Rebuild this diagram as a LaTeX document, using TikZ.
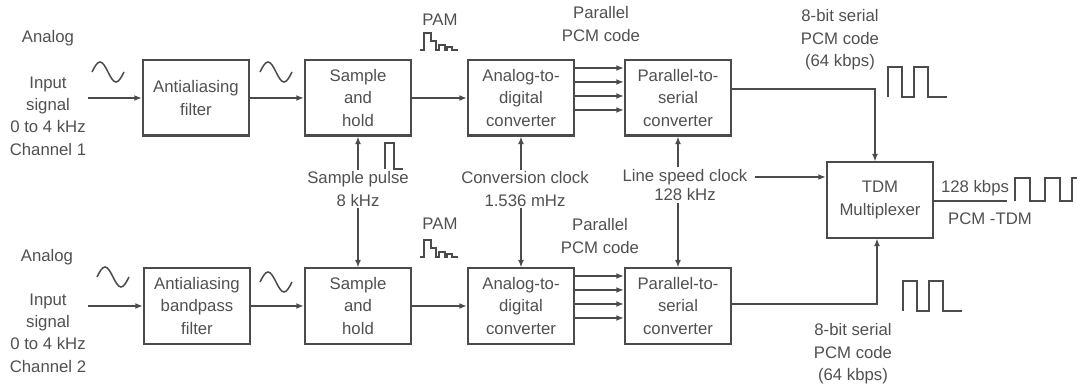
\documentclass[tikz,border=0pt]{standalone}
\usepackage{fontspec}
\setmainfont{Liberation Sans}
\usetikzlibrary{arrows.meta, positioning, calc}
\definecolor{scanInk}{HTML}{4B4B4B}
\definecolor{scanText}{HTML}{505050}

\begin{document}
\begin{tikzpicture}[
    x=0.021cm, y=-0.021cm,
    font=\fontsize{10}{13.4}\selectfont, text=scanText,
    block/.style={rectangle, draw=scanInk, line width=1.2pt,
                  minimum width=2.23cm, minimum height=1.575cm,
                  align=center, inner sep=2pt},
    lbl/.style={align=center, inner sep=1pt},
    sig/.style={draw=scanInk, line width=0.9pt, -{Latex[length=4.5pt,width=3.5pt]}},
    wire/.style={draw=scanInk, line width=0.9pt},
    wave/.style={draw=scanInk, line width=0.9pt},
  ]
    \useasboundingbox (0,0) rectangle (1077,385);

    % channel 1
    \node[block] (aaf1) at (196,98) {Antialiasing\\filter};
    \node[block] (sh1) at (358,98) {Sample\\and\\hold};
    \node[block] (adc1) at (521,98) {Analog-to-\\digital\\converter};
    \node[block] (ps1) at (678,98) {Parallel-to-\\serial\\converter};

    % channel 2
    \node[block] (aaf2) at (197,306) {Antialiasing\\bandpass\\filter};
    \node[block] (sh2) at (358,306) {Sample\\and\\hold};
    \node[block] (adc2) at (521,306) {Analog-to-\\digital\\converter};
    \node[block] (ps2) at (678,306) {Parallel-to-\\serial\\converter};

    \node[block] (tdm) at (880,200) {TDM\\Multiplexer};

    % labels
    \node[lbl] (an1) at (48,38) {Analog};
    \node[lbl] (in1) at (48,116) {Input\\signal\\0 to 4 kHz\\Channel 1};
    \node[lbl] (an2) at (47,257) {Analog};
    \node[lbl] (in2) at (48,333) {Input\\signal\\0 to 4 kHz\\Channel 2};
    \node[lbl] (pam1) at (440,20) {PAM};
    \node[lbl] (pam2) at (440,224) {PAM};
    \node[lbl] (pcm1) at (601,24) {Parallel\\PCM code};
    \node[lbl] (pcm2) at (600,236) {Parallel\\PCM code};
    \node[lbl] (ser1) at (840,40) {8-bit serial\\PCM code\\(64 kbps)};
    \node[lbl] (ser2) at (853,354) {8-bit serial\\PCM code\\(64 kbps)};
    \node[lbl] (spl) at (358,189) {Sample pulse\\8 kHz};
    \node[lbl] (cclk) at (525,189) {Conversion clock\\1.536 mHz};
    \node[lbl] (lsc) at (685,177) {Line speed clock};
    \node[lbl] (lsf) at (685,195) {128 kHz};
    \node[lbl] (kbps) at (975,188) {128 kbps};
    \node[lbl] (pcmtdm) at (990,219) {PCM -TDM};

    % signal path
    \draw[sig] (in1.east |- aaf1.west) -- (aaf1.west);
    \draw[sig] (aaf1) -- (sh1);
    \draw[sig] (sh1) -- (adc1);
    \draw[sig] (in2.east |- aaf2.west) -- (aaf2.west);
    \draw[sig] (aaf2) -- (sh2);
    \draw[sig] (sh2) -- (adc2);
    \foreach \dy in {-30,-16,-2,12} {
      \draw[sig] ($(adc1.east)+(0,\dy)$) -- ($(ps1.west)+(0,\dy)$);
      \draw[sig] ($(adc2.east)+(0,\dy)$) -- ($(ps2.west)+(0,\dy)$);
    }

    % clocks
    \draw[sig] (spl.north) -- (sh1.south);
    \draw[sig] (spl.south) -- (sh2.north);
    \draw[sig] (adc1.south |- cclk.north) -- (adc1.south);
    \draw[sig] (adc2.north |- cclk.south) -- (adc2.north);
    \draw[sig] (ps1.south |- lsc.north) -- (ps1.south);
    \draw[sig] (ps2.north |- lsf.south) -- (ps2.north);
    \draw[sig] ($(lsc.east)+(6,0)$) -- (lsc.east -| tdm.west);

    % into and out of the multiplexer
    \draw[sig] ($(ps1.east)+(0,-9)$) -| ($(tdm.north)+(-5,0)$);
    \draw[sig] ($(ps2.east)+(0,-2)$) -| ($(tdm.south)+(-3,0)$);
    \coordinate (out) at (1007,201);
    \draw[wire] (tdm.east |- out) -- (out);

    % waveforms
    \foreach \sx/\sy in {92/72, 260/72, 97/277, 260/282}
      \draw[wave] (\sx,\sy) sin ++(8,-10) cos ++(8,10) sin ++(8,10) cos ++(8,-10);
    \foreach \oy in {0,207}
      \draw[wave, shift={(0,\oy)}] (420,50) -- (424,50) -- (424,33) -- (431,33)
        -- (431,41) -- (436,41) -- (436,50) -- (439,50) -- (439,45) -- (445,45)
        -- (445,50) -- (447,50) -- (447,47) -- (452,47) -- (452,50) -- (458,50);
    \draw[wave] (385,169) -- (385,143) -- (394,143) -- (394,169) -- (403,169);
    \draw[wave] (888,97) -- ++(0,-30) -- ++(14,0) -- ++(0,30) -- ++(12,0)
      -- ++(0,-30) -- ++(14,0) -- ++(0,30) -- ++(19,0);
    \draw[wave] (903,311) -- ++(0,-30) -- ++(14,0) -- ++(0,30) -- ++(12,0)
      -- ++(0,-30) -- ++(14,0) -- ++(0,30) -- ++(19,0);
    \draw[wave] (1015,201) -- ++(0,-23) -- ++(15,0) -- ++(0,23) -- ++(15,0)
      -- ++(0,-23) -- ++(15,0) -- ++(0,23) -- ++(12,0) -- ++(0,-23) -- ++(5,0);
  \end{tikzpicture}
\end{document}
